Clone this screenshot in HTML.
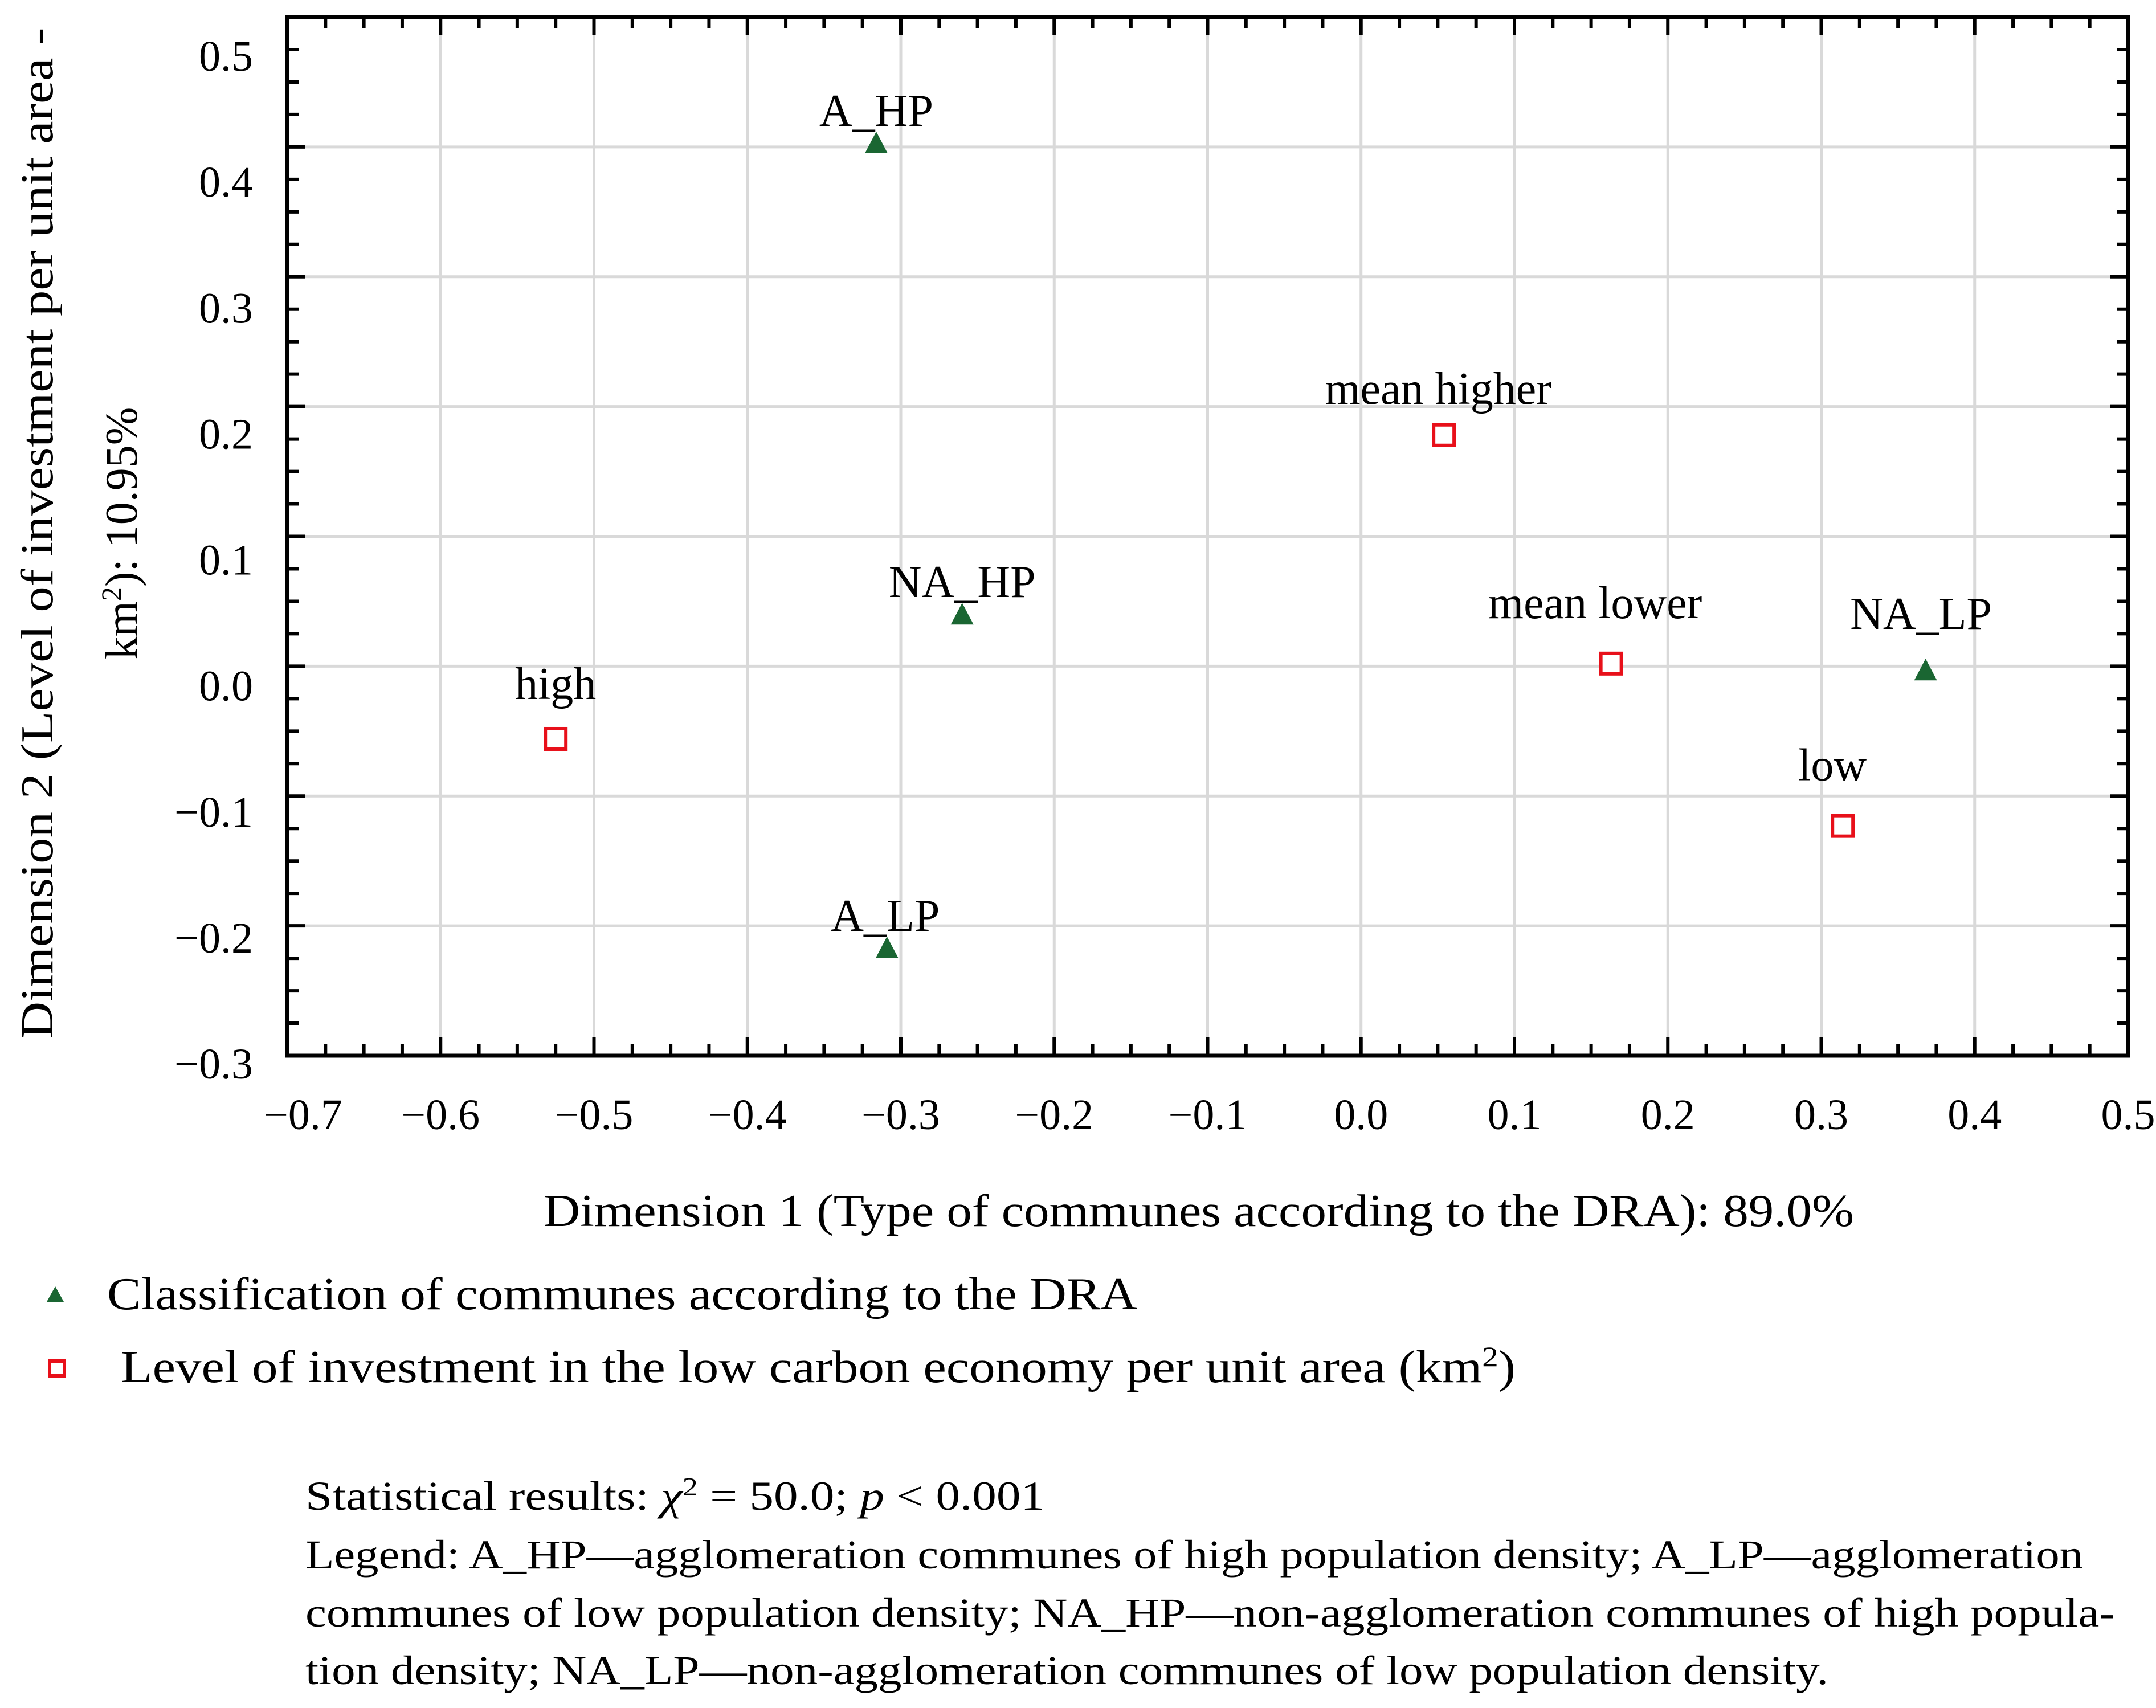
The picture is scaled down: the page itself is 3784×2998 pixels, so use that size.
<!DOCTYPE html>
<html><head><meta charset="utf-8"><style>
html,body{margin:0;padding:0;background:#fff;}
svg{display:block;font-family:"Liberation Serif",serif;}
</style></head><body>
<svg id="chart" width="3784" height="2998" viewBox="0 0 3784 2998" xmlns="http://www.w3.org/2000/svg">
<g id="grid"></g>
<g id="ticks"></g>
<rect x="504" y="30" width="3231" height="1823" fill="none" stroke="#000" stroke-width="7"/>
<g id="xlabels" font-size="76" text-anchor="middle"></g>
<g id="ylabels" font-size="76" text-anchor="end"></g>
<g id="marks"></g>
<g id="ptlabels" font-size="80" text-anchor="middle"></g>
<text x="2104" y="2152" font-size="80" text-anchor="middle" textLength="2300" lengthAdjust="spacingAndGlyphs">Dimension 1 (Type of communes according to the DRA): 89.0%</text>
<g font-size="80" text-anchor="middle">
<text x="0" y="0" transform="translate(92,936) rotate(-90)" textLength="1775" lengthAdjust="spacingAndGlyphs">Dimension 2 (Level of investment per unit area -</text>
<text x="0" y="0" transform="translate(240,936) rotate(-90)">km<tspan baseline-shift="super" font-size="50">2</tspan>): 10.95%</text>
</g>
<g>
<g>
<polygon points="97,2258 82,2285 112,2285" fill="#1a6632"/>
<text x="188" y="2298" font-size="80" textLength="1808" lengthAdjust="spacingAndGlyphs">Classification of communes according to the DRA</text>
</g>
<g>
<rect x="87" y="2389" width="26" height="26" fill="none" stroke="#e8101a" stroke-width="6"/>
<text x="212" y="2426" font-size="80" textLength="2448" lengthAdjust="spacingAndGlyphs">Level of investment in the low carbon economy per unit area (km<tspan baseline-shift="super" font-size="50">2</tspan>)</text>
</g>
</g>
<g font-size="72">
<text x="536" y="2650" textLength="1298" lengthAdjust="spacingAndGlyphs">Statistical results:  <tspan font-style="italic">χ</tspan><tspan baseline-shift="super" font-size="46">2</tspan> = 50.0;  <tspan font-style="italic">p</tspan> &lt; 0.001</text>
<text x="536" y="2753" textLength="3120" lengthAdjust="spacingAndGlyphs">Legend: A_HP—agglomeration communes of high population density; A_LP—agglomeration</text>
<text x="536" y="2855" textLength="3176" lengthAdjust="spacingAndGlyphs">communes of low population density; NA_HP—non-agglomeration communes of high popula-</text>
<text x="536" y="2956" textLength="2673" lengthAdjust="spacingAndGlyphs">tion density; NA_LP—non-agglomeration communes of low population density.</text>
</g>
</svg>
<script>
const xTicks = [-0.7,-0.6,-0.5,-0.4,-0.3,-0.2,-0.1,0.0,0.1,0.2,0.3,0.4,0.5];
const xTickLabels = ["−0.7","−0.6","−0.5","−0.4","−0.3","−0.2","−0.1","0.0","0.1","0.2","0.3","0.4","0.5"];
const yTicks = [-0.3,-0.2,-0.1,0.0,0.1,0.2,0.3,0.4,0.5];
const yTickLabels = ["−0.3","−0.2","−0.1","0.0","0.1","0.2","0.3","0.4","0.5"];
const draNames = ["A_HP","NA_HP","A_LP","NA_LP"];
const draX = [-0.316,-0.260,-0.309,0.368];
const draY = [0.403,0.040,-0.217,-0.003];
const invNames = ["high","mean higher","mean lower","low"];
const invX = [-0.525,0.054,0.163,0.314];
const invY = [-0.056,0.178,0.002,-0.123];

const L=504,R=3735,T=30,B=1853,XMIN=-0.7,XMAX=0.5,YMIN=-0.3,YMAX=0.5;
function sx(v){return L+(v-XMIN)/(XMAX-XMIN)*(R-L);}
function sy(v){return B-(v-YMIN)/(YMAX-YMIN)*(B-T);}
function ly(v){return 1866-(v-YMIN)/(YMAX-YMIN)*(1866-97);}
const NS="http://www.w3.org/2000/svg";
function mk(tag,attrs,parent){const e=document.createElementNS(NS,tag);for(const k in attrs)e.setAttribute(k,attrs[k]);parent.appendChild(e);return e;}
const grid=document.getElementById('grid'),ticks=document.getElementById('ticks');
xTicks.forEach((v,i)=>{
  if(i>0&&i<xTicks.length-1){const g=mk('line',{x1:sx(v),x2:sx(v),y1:T,y2:B,stroke:'#d9d9d9','stroke-width':5},grid);
  
  }
  const t=mk('text',{x:sx(v)+(i==0?28:0),y:1982},document.getElementById('xlabels'));
  
  
  t.textContent=xTickLabels[i];
});
yTicks.forEach((v,i)=>{
  if(i>0&&i<yTicks.length-1){const g=mk('line',{x1:L,x2:R,y1:sy(v),y2:sy(v),stroke:'#d9d9d9','stroke-width':5},grid);
  
  }
  const t=mk('text',{x:444,y:ly(v)+27},document.getElementById('ylabels'));
  
  
  t.textContent=yTickLabels[i];
});
for(let k=0;k<=48;k++){const v=XMIN+k*0.025;const x=sx(v);const len=(k%4==0)?32:20;
  mk('line',{x1:x,x2:x,y1:B,y2:B-len,stroke:'#000','stroke-width':6},ticks);
  mk('line',{x1:x,x2:x,y1:T,y2:T+len,stroke:'#000','stroke-width':6},ticks);}
for(let k=0;k<=32;k++){const v=YMIN+k*0.025;const y=sy(v);const len=(k%4==0)?32:20;
  mk('line',{x1:L,x2:L+len,y1:y,y2:y,stroke:'#000','stroke-width':6},ticks);
  mk('line',{x1:R,x2:R-len,y1:y,y2:y,stroke:'#000','stroke-width':6},ticks);}
const marks=document.getElementById('marks'),pl=document.getElementById('ptlabels');
const draLabelOff=[[0,-30],[0,-30],[-3,-30],[-8,-72]];
const invLabelOff=[[0,-70],[-10,-55],[-28,-80],[-18,-80]];
draX.forEach((v,i)=>{const x=sx(v),y=sy(draY[i]);
  const p=mk('polygon',{points:`${x},${y-20} ${x-20},${y+18} ${x+20},${y+18}`,fill:'#1a6632'},marks);
  
  
  const t=mk('text',{x:x+draLabelOff[i][0],y:y+draLabelOff[i][1]},pl);
  
  
  t.textContent=draNames[i];});
invX.forEach((v,i)=>{const x=sx(v),y=sy(invY[i]);
  const p=mk('rect',{x:x-18,y:y-18,width:36,height:36,fill:'#fff',stroke:'#e8101a','stroke-width':6},marks);
  
  
  const t=mk('text',{x:x+invLabelOff[i][0],y:y+invLabelOff[i][1]},pl);
  
  
  t.textContent=invNames[i];});
</script>
</body></html>
